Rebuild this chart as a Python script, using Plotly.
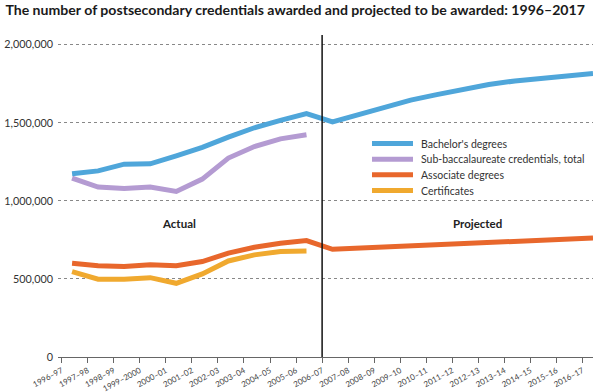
import plotly.graph_objects as go

# ---- data ----
years = ["1996–97", "1997–98", "1998–99", "1999–2000", "2000–01", "2001–02",
         "2002–03", "2003–04", "2004–05", "2005–06", "2006–07", "2007–08",
         "2008–09", "2009–10", "2010–11", "2011–12", "2012–13", "2013–14",
         "2014–15", "2015–16", "2016–17"]
bachelors = [1173000, 1192000, 1235000, 1237000, 1288000, 1342000, 1408000,
             1468000, 1515000, 1558000, 1506000, 1555000, 1600000, 1645000,
             1680000, 1715000, 1745000, 1768000, 1785000, 1800000, 1815000]
sub_bacc = [1146000, 1088000, 1079000, 1088000, 1060000, 1139000, 1274000,
            1348000, 1397000, 1423000]
associate = [600000, 585000, 579000, 590000, 585000, 611000, 665000, 703000,
             729000, 746000, 690000, 697000, 708000, 717000, 724000, 730000,
             736000, 742000, 748000, 755000, 762000]
certificates = [547000, 498000, 498000, 508000, 472000, 532000, 615000,
                654000, 675000, 679000]
y_ticks = [0, 500000, 1000000, 1500000, 2000000]
series_names = ["Bachelor's degrees", "Sub-baccalaureate credentials, total",
                "Associate degrees", "Certificates"]
colors = ["#4fa6da", "#b49bd2", "#e8672c", "#f0a92f"]
projection_start = "2006–07"
period_labels = ["Actual", "Projected"]

# ---- layout geometry ----
W, H = 600, 392
L, R, T, B = 58, 7, 35, 35
TICK_SHIFT = 0.4
pw = W - L - R
ph = H - T - B

def px_x(px):
    return (px - L) / pw

def px_y(py):
    return (H - B - py) / ph

idx = list(range(len(years)))
tick_pos = [i - TICK_SHIFT for i in idx]

fig = go.Figure()
data_series = [bachelors, sub_bacc, associate, certificates]
for k in [3, 2, 1, 0]:
    vals = data_series[k]
    fig.add_trace(go.Scatter(
        x=idx[:len(vals)], y=vals, mode="lines", name=series_names[k],
        line=dict(color=colors[k], width=5), showlegend=False,
        hoverinfo="skip"))

shapes = []
# vertical divider between actual and projected
vx = tick_pos[years.index(projection_start)]
shapes.append(dict(type="line", xref="x", yref="paper", x0=vx, x1=vx,
                   y0=0, y1=1, line=dict(color="#111", width=1.5)))

# manual legend
legend_rows = [143.5, 159.2, 174.8, 190.5]
annotations = []
for k, yy in enumerate(legend_rows):
    shapes.append(dict(type="line", xref="paper", yref="paper",
                       x0=px_x(372), x1=px_x(413), y0=px_y(yy), y1=px_y(yy),
                       line=dict(color=colors[k], width=5)))
    annotations.append(dict(xref="paper", yref="paper", x=px_x(419),
                            y=px_y(yy), text=series_names[k], showarrow=False,
                            xanchor="left", yanchor="middle",
                            font=dict(family="Lato", size=10.5, color="#333")))

annotations.append(dict(xref="paper", yref="paper", x=px_x(179), y=px_y(223),
                        text="<b>" + period_labels[0] + "</b>", showarrow=False,
                        xanchor="center", yanchor="middle",
                        font=dict(family="Lato", size=11.5, color="#222")))
annotations.append(dict(xref="paper", yref="paper", x=px_x(477), y=px_y(223),
                        text="<b>" + period_labels[1] + "</b>", showarrow=False,
                        xanchor="center", yanchor="middle",
                        font=dict(family="Lato", size=11.5, color="#222")))

fig.update_layout(
    width=W, height=H,
    margin=dict(l=L, r=R, t=T, b=B, pad=0, autoexpand=False),
    paper_bgcolor="white", plot_bgcolor="white",
    title=dict(text="<b>The number of postsecondary credentials awarded and projected to be awarded: 1996–2017</b>",
               x=0.009, xanchor="left", y=1 - 10 / H, yanchor="middle",
               font=dict(family="Lato", size=14.1, color="#1a1a1a")),
    shapes=shapes, annotations=annotations,
    xaxis=dict(range=[-0.54, 20.0], tickvals=tick_pos, ticktext=years,
               tickangle=-28, tickfont=dict(family="Lato", size=8, color="#444"),
               showgrid=False, zeroline=False, showline=True, automargin=False,
               linecolor="#666", linewidth=1, ticks="outside", ticklen=5,
               tickcolor="#666", fixedrange=True),
    yaxis=dict(range=[0, 2062000], tickvals=y_ticks, tickformat=",d",
               tickfont=dict(family="Lato", size=10.8, color="#333"),
               showgrid=True, gridcolor="#888", griddash="dot", gridwidth=1,
               zeroline=False, showline=False, ticks="", ticklabelstandoff=4,
               automargin=False, fixedrange=True),
)

fig.write_html("out.html", config={"displayModeBar": False},
               post_script="document.body.style.margin='0px';")
